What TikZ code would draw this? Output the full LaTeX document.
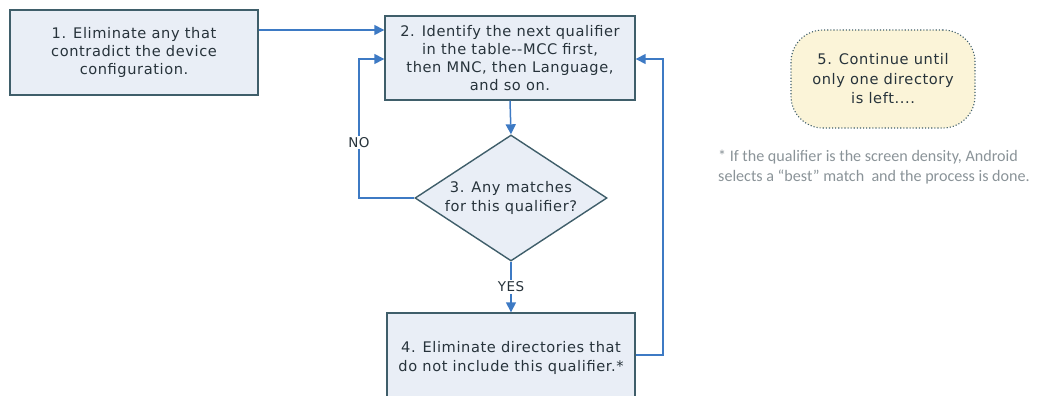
\documentclass[tikz,border=0pt]{standalone}
\usepackage{fontspec}
\setmainfont{DejaVu Sans}
\newfontfamily\notefont{Carlito}
\usetikzlibrary{arrows.meta,shapes.geometric,positioning}
\definecolor{boxfill}{HTML}{E9EEF6}
\definecolor{boxline}{HTML}{3F5E6A}
\definecolor{flow}{HTML}{3D7AC4}
\definecolor{txt}{HTML}{27333B}
\definecolor{notefill}{HTML}{FBF4D8}
\definecolor{notegray}{HTML}{8A9398}
\tikzset{
  stepfont/.style={font=\fontsize{14.6}{18.2}\selectfont\addfontfeature{LetterSpace=4}},
  stepbox/.style={draw=boxline, line width=1.4pt, fill=boxfill, rectangle,
    inner sep=0pt, text=txt, align=center, stepfont},
  steptext/.style={text=txt, align=center, inner sep=0pt, stepfont},
  flowline/.style={draw=flow, line width=1.5pt},
  flowarrow/.style={flowline, -{Triangle[length=10pt,width=10pt]}},
  answer/.style={fill=white, text=txt, inner sep=1.5pt,
    font=\fontsize{13.5}{15}\selectfont\addfontfeature{LetterSpace=4}}
}
\begin{document}
\begin{tikzpicture}[x=1pt,y=-1pt]
\useasboundingbox (0,0) rectangle (1041,396);
\clip (0,0) rectangle (1041,396);

% process boxes
\node[stepbox, minimum width=248pt, minimum height=85pt] (s1) at (134,52.5)
  {1. Eliminate any that\\contradict the device\\configuration.};
\node[stepbox, minimum width=250pt, minimum height=84pt] (s2) at (510,58)
  {2. Identify the next qualifier\\in the table-{}-MCC first,\\then MNC, then Language,\\and so on.};
\node[stepbox, minimum width=248pt, minimum height=90pt] (s4) at (511,358)
  {4. Eliminate directories that\\do not include this qualifier.*};

% decision
\node[diamond, draw=boxline, line width=1.4pt, fill=boxfill, inner sep=0pt,
  minimum width=192pt, minimum height=126pt] (d3) at (511,198) {};
\node[steptext] (d3text) at (d3.center) {3. Any matches\\for this qualifier?};

% final state
\node[draw=boxline, line width=1.1pt, dotted, fill=notefill, rounded corners=32pt,
  minimum width=184pt, minimum height=98pt, inner sep=0pt, align=center,
  text=txt, font=\fontsize{14.6}{19.5}\selectfont\addfontfeature{LetterSpace=4}]
  (s5) at (883,79) {5. Continue until\\only one directory\\is left....};

% footnote
\node[text=notegray, align=left, inner sep=0pt, anchor=west,
  font=\notefont\fontsize{16.1}{20}\selectfont] (fn) at (718,167)
  {* If the qualifier is the screen density, Android\\selects a “best” match\ \ and the process is done.};

% connectors
\coordinate (noturn) at (359,198);
\coordinate (yesturn) at (663,355);
\draw[flowarrow] (s1.east |- 0,30) -- (s2.west |- 0,30);
\draw[flowarrow] (s2.south) -- (d3.north);
\draw[flowarrow] (d3.west) -- (noturn) -- node[answer, pos=0.4] {NO} (noturn |- 0,59) -- (s2.west |- 0,59);
\draw[flowarrow] (d3.south) -- node[answer, pos=0.5] {YES} (s4.north);
\draw[flowarrow] (s4.east |- yesturn) -- (yesturn) -- (yesturn |- 0,59) -- (s2.east |- 0,59);
\end{tikzpicture}
\end{document}
